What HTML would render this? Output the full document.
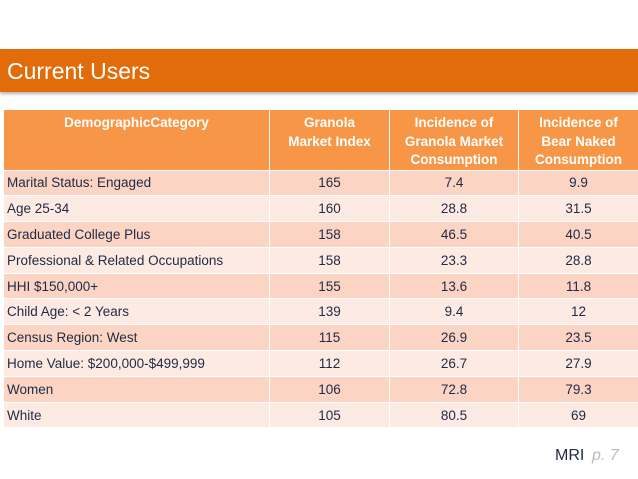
<!DOCTYPE html>
<html><head><meta charset="utf-8"><style>
body{margin:0;width:638px;height:479px;background:#fff;font-family:"Liberation Sans",sans-serif;position:relative;overflow:hidden}
#bar{position:absolute;left:0;top:49px;width:638px;height:43px;background:#e36c0a;box-shadow:0 2px 3px rgba(0,0,0,.3)}
#bar span{position:absolute;left:7px;top:9px;color:#fff;font-size:23px}
table{position:absolute;left:3px;top:109px;width:635px;border-collapse:collapse;table-layout:fixed;font-size:13.5px;color:#1f2a44}
td,th{border:1px solid #fff;padding:0 3px;white-space:nowrap;overflow:hidden}
th{background:#f79646;color:#fff;font-size:13.5px;font-weight:bold;height:54px;vertical-align:top;padding-top:4px;line-height:18.5px}
td{height:24.8px;text-align:center}
td:first-child{text-align:left}
tr.o td{background:#fbd4c4}
tr.e td{background:#fdeae3}
#mri{position:absolute;left:555px;top:447px;font-size:16px;color:#1f2a44}
#pg{position:absolute;left:592px;top:447px;font-size:16px;color:#bbb;font-style:italic}
</style></head><body>
<div id="bar"><span>Current Users</span></div>
<table>
<colgroup><col style="width:266px"><col style="width:120px"><col style="width:129px"><col style="width:120px"></colgroup>
<tr><th>DemographicCategory</th><th>Granola<br>Market Index</th><th>Incidence of<br>Granola Market<br>Consumption</th><th>Incidence of<br>Bear Naked<br>Consumption</th></tr>
<tr class="o"><td>Marital Status: Engaged</td><td>165</td><td>7.4</td><td>9.9</td></tr>
<tr class="e"><td>Age 25-34</td><td>160</td><td>28.8</td><td>31.5</td></tr>
<tr class="o"><td>Graduated College Plus</td><td>158</td><td>46.5</td><td>40.5</td></tr>
<tr class="e"><td>Professional &amp; Related Occupations</td><td>158</td><td>23.3</td><td>28.8</td></tr>
<tr class="o"><td>HHI $150,000+</td><td>155</td><td>13.6</td><td>11.8</td></tr>
<tr class="e"><td>Child Age: &lt; 2 Years</td><td>139</td><td>9.4</td><td>12</td></tr>
<tr class="o"><td>Census Region: West</td><td>115</td><td>26.9</td><td>23.5</td></tr>
<tr class="e"><td>Home Value: $200,000-$499,999</td><td>112</td><td>26.7</td><td>27.9</td></tr>
<tr class="o"><td>Women</td><td>106</td><td>72.8</td><td>79.3</td></tr>
<tr class="e"><td>White</td><td>105</td><td>80.5</td><td>69</td></tr>
</table>
<div id="mri">MRI</div>
<div id="pg">p. 7</div>
</body></html>
